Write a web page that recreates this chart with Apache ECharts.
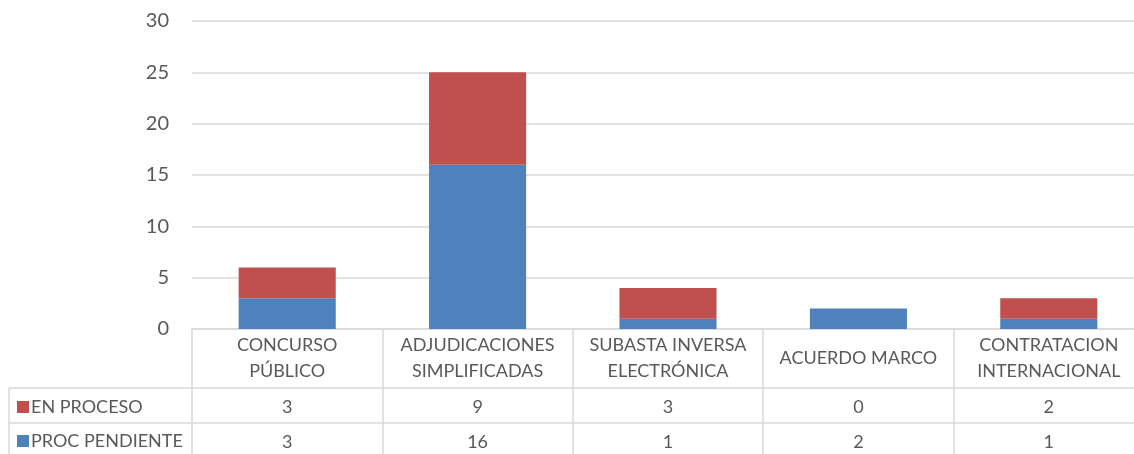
<!DOCTYPE html>
<html>
<head>
<meta charset="utf-8">
<script src="https://cdn.jsdelivr.net/npm/echarts@6/dist/echarts.min.js"></script>
<style>
  html, body { margin: 0; padding: 0; background: #fff; }
  #main { width: 1134px; height: 454px; }
</style>
</head>
<body>
<div id="main"></div>
<script>
// categories (line breaks as in the Excel table header)
let categories = ['CONCURSO\nPÚBLICO', 'ADJUDICACIONES\nSIMPLIFICADAS', 'SUBASTA INVERSA\nELECTRÓNICA', 'ACUERDO MARCO', 'CONTRATACION\nINTERNACIONAL'];
let enProceso = [3, 9, 3, 0, 2];
let procPendiente = [3, 16, 1, 2, 1];
let yTicks = [0, 5, 10, 15, 20, 25, 30];

window.addEventListener('load', function () {
    let chart = echarts.init(document.getElementById('main'));
    let font = 'Lato';
    let grey = '#595959';
    let lineColor = '#d9d9d9';

    function legendRow(name, top) {
        return {
            orient: 'vertical',
            left: 17,
            top: top,
            padding: 0,
            icon: 'rect',
            itemWidth: 12,
            itemHeight: 12,
            selectedMode: false,
            data: [name],
            textStyle: { fontFamily: font, fontSize: 18, color: grey, lineHeight: 18, padding: [0, 0, 0, -3] }
        };
    }

    function valueAxis(values, offset) {
        return {
            type: 'category',
            data: values.map(String),
            position: 'bottom',
            offset: offset,
            axisLine: { show: false },
            axisTick: { show: false },
            axisLabel: { interval: 0, margin: 0, verticalAlign: 'middle', fontSize: 18, color: grey, fontFamily: font }
        };
    }

    let option = {
        animation: false,
        color: ['#4f81bd', '#c0504d'],
        textStyle: { fontFamily: font },
        grid: { left: 192, width: 952, top: 21, bottom: 125, containLabel: false, outerBoundsMode: 'none' },
        legend: [
            legendRow('EN PROCESO', 398),
            legendRow('PROC PENDIENTE', 432)
        ],
        xAxis: [
            {
                type: 'category',
                data: categories,
                axisLine: { lineStyle: { color: lineColor, width: 1.5 } },
                axisTick: { show: true, length: 125, alignWithLabel: false, lineStyle: { color: lineColor, width: 1.5 } },
                axisLabel: { interval: 0, margin: 29, verticalAlign: 'middle', lineHeight: 26, fontSize: 18, color: grey, fontFamily: font }
            },
            valueAxis(enProceso, 78),
            valueAxis(procPendiente, 113)
        ],
        yAxis: {
            type: 'value',
            min: yTicks[0],
            max: yTicks[yTicks.length - 1],
            interval: 5,
            axisLine: { show: false },
            axisTick: { show: false },
            axisLabel: { margin: 23, fontSize: 20, color: grey, fontFamily: font },
            splitLine: { lineStyle: { color: lineColor, width: 1.5 } }
        },
        graphic: [
            // data table borders
            { type: 'line', shape: { x1: 9, y1: 388, x2: 1134, y2: 388 }, style: { stroke: lineColor, lineWidth: 1.5 } },
            { type: 'line', shape: { x1: 9, y1: 423, x2: 1134, y2: 423 }, style: { stroke: lineColor, lineWidth: 1.5 } },
            { type: 'line', shape: { x1: 9, y1: 388, x2: 9, y2: 454 }, style: { stroke: lineColor, lineWidth: 1.5 } }
        ],
        series: [
            {
                name: 'PROC PENDIENTE',
                type: 'bar',
                stack: 'total',
                barWidth: '51%',
                data: procPendiente
            },
            {
                name: 'EN PROCESO',
                type: 'bar',
                stack: 'total',
                barWidth: '51%',
                data: enProceso
            }
        ]
    };
    chart.setOption(option);
}, false);
</script>
</body>
</html>
